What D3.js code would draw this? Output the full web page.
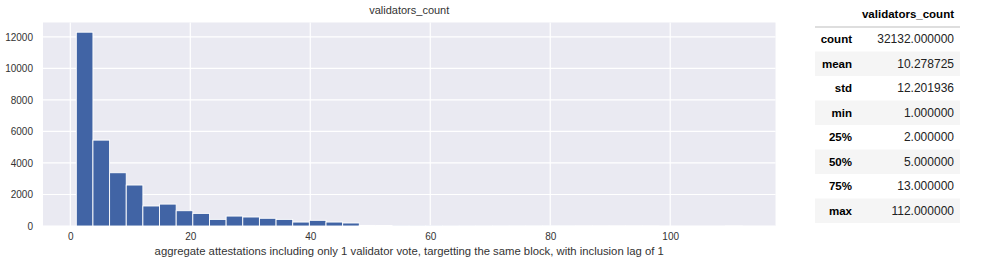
<!DOCTYPE html>
<html>
<head>
<meta charset="utf-8">
<script src="https://cdn.jsdelivr.net/npm/d3@7"></script>
<style>
  body { margin: 0; background: #fff; }
  svg { display: block; }
</style>
</head>
<body>
<svg id="chart" width="991" height="269"></svg>
<script>
// histogram: 40 bins from 1 to 112
const binStart = 1;
const binEnd = 112;
const binCounts = [12300, 5450, 3380, 2600, 1270, 1390, 970, 800, 420, 630,
                   570, 490, 420, 250, 360, 250, 190, 40, 30, 20,
                   15, 10, 8, 6, 5, 4, 3, 3, 2, 2,
                   1, 1, 1, 1, 1, 0, 0, 0, 0, 1];
const xTicks = [0, 20, 40, 60, 80, 100];
const yTicks = [0, 2000, 4000, 6000, 8000, 10000, 12000];

const statLabels = ["count", "mean", "std", "min", "25%", "50%", "75%", "max"];
const statValues = ["32132.000000", "10.278725", "12.201936", "1.000000",
                    "2.000000", "5.000000", "13.000000", "112.000000"];

const svg = d3.select("#chart");
const margin = { top: 22.5, right: 215.5, bottom: 43, left: 43 };
const W = 991, H = 269;
const innerW = W - margin.left - margin.right;
const innerH = H - margin.top - margin.bottom;

const binW = (binEnd - binStart) / binCounts.length;
const bins = binCounts.map((c, i) => ({ x0: binStart + i * binW, x1: binStart + (i + 1) * binW, n: c }));

const pad = (binEnd - binStart) * 0.05;
const x = d3.scaleLinear().domain([binStart - pad, binEnd + pad]).range([0, innerW]);
const y = d3.scaleLinear().domain([0, d3.max(binCounts) * 1.05]).range([innerH, 0]);

const g = svg.append("g").attr("transform", `translate(${margin.left},${margin.top})`);

g.append("rect").attr("width", innerW).attr("height", innerH).attr("fill", "#eaeaf2");

// grid
g.append("g").selectAll("line").data(xTicks).join("line")
  .attr("x1", d => x(d)).attr("x2", d => x(d))
  .attr("y1", 0).attr("y2", innerH)
  .attr("stroke", "#fff").attr("stroke-width", 1.2);
g.append("g").selectAll("line").data(yTicks).join("line")
  .attr("x1", 0).attr("x2", innerW)
  .attr("y1", d => y(d)).attr("y2", d => y(d))
  .attr("stroke", "#fff").attr("stroke-width", 1.2);

// bars
g.append("g").selectAll("rect").data(bins).join("rect")
  .attr("x", d => x(d.x0))
  .attr("width", d => x(d.x1) - x(d.x0))
  .attr("y", d => y(d.n))
  .attr("height", d => innerH - y(d.n))
  .attr("fill", "#4164a5")
  .attr("stroke", "#fff")
  .attr("stroke-width", 0.9);

// axes (labels only, seaborn darkgrid style)
const font = "'Liberation Sans', Arial, sans-serif";
const xAxis = g.append("g").attr("transform", `translate(0,${innerH})`)
  .call(d3.axisBottom(x).tickValues(xTicks).tickSize(0).tickPadding(7));
const yAxis = g.append("g")
  .call(d3.axisLeft(y).tickValues(yTicks).tickFormat(d3.format("d")).tickSize(0).tickPadding(10));
[xAxis, yAxis].forEach(a => {
  a.select(".domain").remove();
  a.selectAll("text").attr("fill", "#333").style("font-size", "10px").style("font-family", font);
});

g.append("text")
  .attr("x", innerW / 2).attr("y", -9)
  .attr("text-anchor", "middle")
  .attr("fill", "#333").style("font-size", "11px").style("font-family", font)
  .text("validators_count");

g.append("text")
  .attr("x", innerW / 2).attr("y", innerH + 29)
  .attr("text-anchor", "middle")
  .attr("fill", "#333").style("font-size", "11.3px").style("font-family", font)
  .text("aggregate attestations including only 1 validator vote, targetting the same block, with inclusion lag of 1");

// describe() table
const tLeft = 815, tRight = 960, rowH = 24.5, tTop = 27;
const tbl = svg.append("g").style("font-family", font).style("font-size", "12px");
tbl.append("text").attr("x", 954).attr("y", 18).attr("text-anchor", "end")
  .attr("font-weight", "bold").attr("fill", "#000").style("font-size", "11.5px").text("validators_count");
tbl.append("line").attr("x1", tLeft).attr("x2", tRight).attr("y1", tTop).attr("y2", tTop)
  .attr("stroke", "#bdbdbd").attr("stroke-width", 1);

statLabels.forEach((lab, i) => {
  const ry = tTop + i * rowH;
  if (i % 2 === 1) {
    tbl.append("rect").attr("x", tLeft).attr("y", ry).attr("width", tRight - tLeft).attr("height", rowH)
      .attr("fill", "#f5f5f5");
  }
  tbl.append("text").attr("x", 852).attr("y", ry + rowH / 2 + 4).attr("text-anchor", "end")
    .attr("font-weight", "bold").attr("fill", "#000").style("font-size", "11.5px").text(lab);
  tbl.append("text").attr("x", 954).attr("y", ry + rowH / 2 + 4).attr("text-anchor", "end")
    .attr("fill", "#222").text(statValues[i]);
});
</script>
</body>
</html>
